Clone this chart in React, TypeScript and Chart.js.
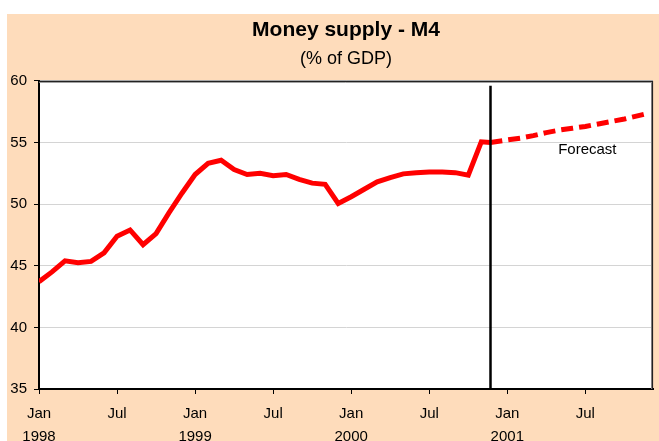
import React, { useEffect, useRef } from "react";
import { Chart, registerables } from "chart.js";

Chart.register(...registerables);

// Month index: 0 = Jan 1998
const actualMonths = [
  0, 1, 2, 3, 4, 5, 6, 7, 8, 9, 10, 11, 12, 13, 14, 15, 16, 17, 18, 19, 20, 21,
  22, 23, 24, 25, 26, 27, 28, 29, 30, 31, 32, 33, 34,
];
const actualValues = [
  43.7, 44.5, 45.4, 45.25, 45.35, 46.05, 47.4, 47.9, 46.7, 47.6, 49.3, 50.9,
  52.4, 53.3, 53.55, 52.8, 52.4, 52.5, 52.3, 52.4, 52.0, 51.7, 51.6, 50.05,
  50.6, 51.2, 51.8, 52.15, 52.45, 52.55, 52.6, 52.6, 52.55, 52.35, 55.05,
];
const dividerMonth = 34.7;
const junctionValue = 55.0;
const dividerTop = 59.6;
const forecastMonths = [36, 37, 38, 39, 40, 41, 42, 43, 44, 45, 46, 46.8];
const forecastValues = [
  55.2, 55.35, 55.55, 55.8, 56.0, 56.15, 56.3, 56.5, 56.7, 56.9, 57.15, 57.35,
];
const tickMonths = [0, 6, 12, 18, 24, 30, 36, 42];
const tickMonthLabels = ["Jan", "Jul", "Jan", "Jul", "Jan", "Jul", "Jan", "Jul"];
const tickYearLabels = ["1998", "", "1999", "", "2000", "", "2001", ""];
const yTicks = [35, 40, 45, 50, 55, 60];
const forecastLabel = "Forecast";
const forecastLabelAt = { x: 42.15, y: 54.4 };

const FONT = "'Liberation Sans', Arial, sans-serif";

export default function App() {
  const canvasRef = useRef<HTMLCanvasElement | null>(null);

  useEffect(() => {
    const canvas = canvasRef.current;
    if (!canvas) return;

    const actualData = actualMonths.map((m, i) => ({ x: m, y: actualValues[i] }));
    actualData.push({ x: dividerMonth, y: junctionValue });
    const forecastData = [{ x: dividerMonth, y: junctionValue }].concat(
      forecastMonths.map((m, i) => ({ x: m, y: forecastValues[i] }))
    );

    const decor = {
      id: "decor",
      beforeDraw(chart: any) {
        const { ctx, chartArea } = chart;
        ctx.save();
        ctx.fillStyle = "#ffffff";
        ctx.fillRect(
          chartArea.left,
          chartArea.top,
          chartArea.right - chartArea.left,
          chartArea.bottom - chartArea.top
        );
        ctx.restore();
      },
      afterDatasetsDraw(chart: any) {
        const { ctx, chartArea, scales } = chart;
        const xs = scales.x;
        const ys = scales.y;
        ctx.save();
        // divider line
        const dx = Math.round(xs.getPixelForValue(dividerMonth)) + 0.5;
        ctx.strokeStyle = "#000000";
        ctx.lineWidth = 2.5;
        ctx.beginPath();
        ctx.moveTo(dx, ys.getPixelForValue(dividerTop));
        ctx.lineTo(dx, chartArea.bottom);
        ctx.stroke();
        // forecast label
        ctx.fillStyle = "#000000";
        ctx.font = "15px " + FONT;
        ctx.textAlign = "center";
        ctx.textBaseline = "middle";
        ctx.fillText(
          forecastLabel,
          xs.getPixelForValue(forecastLabelAt.x),
          ys.getPixelForValue(forecastLabelAt.y)
        );
        // top & right border
        ctx.strokeStyle = "#8a8a8a";
        ctx.lineWidth = 1;
        ctx.beginPath();
        ctx.moveTo(chartArea.left, chartArea.top + 1.5);
        ctx.lineTo(chartArea.right - 1.5, chartArea.top + 1.5);
        ctx.lineTo(chartArea.right - 1.5, chartArea.bottom);
        ctx.stroke();
        ctx.strokeStyle = "#222222";
        ctx.lineWidth = 1.2;
        ctx.beginPath();
        ctx.moveTo(chartArea.left, chartArea.top + 0.5);
        ctx.lineTo(chartArea.right - 0.5, chartArea.top + 0.5);
        ctx.lineTo(chartArea.right - 0.5, chartArea.bottom);
        ctx.stroke();
        ctx.restore();
      },
    };

    const chart = new Chart(canvas, {
      type: "line",
      data: {
        datasets: [
          {
            label: "Actual",
            data: actualData,
            borderColor: "#ff0000",
            borderWidth: 5,
            pointRadius: 0,
            tension: 0,
            fill: false,
          },
          {
            label: "Forecast",
            data: forecastData,
            borderColor: "#ff0000",
            borderWidth: 5,
            borderDash: [12, 6],
            borderCapStyle: "butt",
            pointRadius: 0,
            tension: 0,
            fill: false,
          },
        ],
      },
      options: {
        animation: false,
        responsive: false,
        maintainAspectRatio: false,
        layout: { padding: { left: 0, right: 6, top: 0, bottom: 0 } },
        plugins: {
          legend: { display: false },
          tooltip: { enabled: false },
          title: {
            display: true,
            fullSize: false,
            text: "Money supply - M4",
            color: "#000000",
            font: { family: FONT, size: 21, weight: "bold", lineHeight: 1.2 },
            padding: { top: 4, bottom: 2 },
          },
          subtitle: {
            display: true,
            fullSize: false,
            text: "(% of GDP)",
            color: "#000000",
            font: { family: FONT, size: 18, lineHeight: 1.2 },
            padding: { top: 3, bottom: 11 },
          },
        },
        scales: {
          x: {
            type: "linear",
            min: 0,
            max: 47.2,
            afterBuildTicks(scale: any) {
              scale.ticks = tickMonths.map((v) => ({ value: v }));
            },
            afterFit(scale: any) {
              scale.height = 52;
            },
            border: { display: true, color: "#000000", width: 2 },
            grid: {
              drawOnChartArea: false,
              drawTicks: true,
              tickLength: 5,
              tickColor: "#000000",
              tickWidth: 1,
            },
            ticks: {
              autoSkip: false,
              maxRotation: 0,
              padding: 8,
              color: "#000000",
              font: { family: FONT, size: 15, lineHeight: 1.55 },
              callback(value: any) {
                const i = tickMonths.indexOf(Number(value));
                if (i < 0) return "";
                return [tickMonthLabels[i], tickYearLabels[i]];
              },
            },
          },
          y: {
            min: 35,
            max: 60,
            afterBuildTicks(scale: any) {
              scale.ticks = yTicks.map((v) => ({ value: v }));
            },
            afterFit(scale: any) {
              scale.width = 32;
            },
            border: { display: true, color: "#000000", width: 2 },
            grid: {
              color: "#d4d4d4",
              lineWidth: 1,
              tickLength: 5,
              tickColor: "#000000",
              tickWidth: 1,
            },
            ticks: {
              padding: 7,
              color: "#000000",
              font: { family: FONT, size: 15 },
            },
          },
        },
      },
      plugins: [decor],
    });

    return () => chart.destroy();
  }, []);

  return (
    <div
      style={{
        position: "fixed",
        left: 0,
        top: 0,
        width: 659,
        height: 441,
        background: "#ffffff",
        overflow: "hidden",
      }}
    >
      <div
        style={{
          position: "absolute",
          left: 7,
          top: 14,
          width: 652,
          height: 427,
          background: "#fedcbb",
        }}
      >
        <canvas ref={canvasRef} width={652} height={427} style={{ display: "block" }} />
      </div>
    </div>
  );
}
